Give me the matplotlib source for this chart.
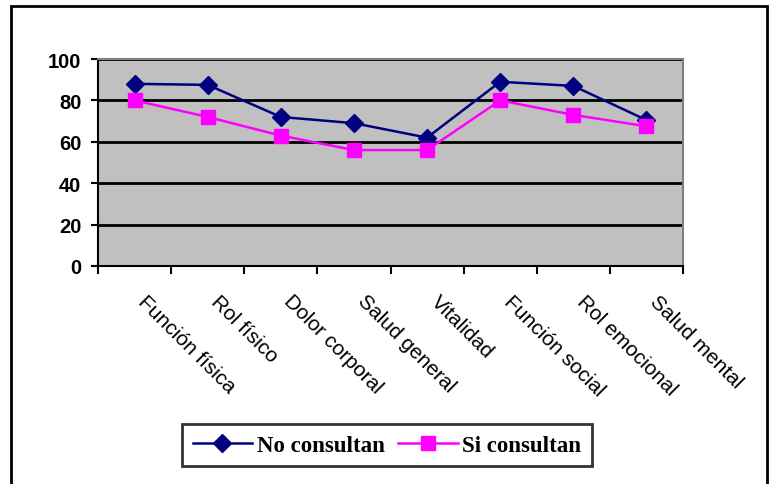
import matplotlib.pyplot as plt
import matplotlib.transforms as mtransforms
from matplotlib.patches import Rectangle

# categories and values
categorias = ["Función física", "Rol físico", "Dolor corporal", "Salud general",
              "Vitalidad", "Función social", "Rol emocional", "Salud mental"]
no_consultan = [88, 87.5, 72, 69, 62, 89, 87, 70.5]
si_consultan = [80, 72, 63, 56, 56, 80, 73, 67.5]
y_ticks = [0, 20, 40, 60, 80, 100]

fig = plt.figure(figsize=(7.76, 4.85), dpi=100)
ax = fig.add_axes([98 / 776, 1 - 267 / 485, (683 - 98) / 776, (267 - 60) / 485])

x = list(range(1, len(categorias) + 1))
ax.plot(x, no_consultan, color="#000080", marker="D", markersize=9.5, linewidth=1.8,
        label="No consultan", clip_on=False, zorder=3)
ax.plot(x, si_consultan, color="#FF00FF", marker="s", markersize=10.5, linewidth=1.8,
        label="Si consultan", clip_on=False, zorder=3)

ax.set_facecolor("#C0C0C0")
ax.set_xlim(0.5, len(categorias) + 0.5)
ax.set_ylim(0, 100)

# y axis
ax.set_yticks(y_ticks)
ax.set_yticklabels([str(v) for v in y_ticks], fontfamily="Liberation Sans",
                   fontweight="bold", fontsize=14.5)
ax.tick_params(axis="y", direction="out", length=5, width=1.5, pad=7)
ax.set_axisbelow(True)
ax.grid(axis="y", color="black", linewidth=2)

# x axis: ticks between categories, labels at categories
ax.set_xticks([i + 0.5 for i in range(len(categorias) + 1)])
ax.set_xticklabels([])
ax.set_xticks(x, minor=True)
ax.set_xticklabels(categorias, minor=True, fontfamily="Liberation Sans", fontsize=15,
                   rotation=-45, ha="left", va="top", rotation_mode="anchor")
ax.tick_params(axis="x", which="major", direction="out", length=6, width=1.5)
ax.tick_params(axis="x", which="minor", length=0, pad=18)
off = mtransforms.ScaledTranslation(13 / 100, 0, fig.dpi_scale_trans)
for lbl in ax.get_xticklabels(minor=True):
    lbl.set_transform(lbl.get_transform() + off)

for side in ["left", "bottom"]:
    ax.spines[side].set_color("black")
    ax.spines[side].set_linewidth(1.5)
for side in ["top", "right"]:
    ax.spines[side].set_color("#808080")
    ax.spines[side].set_linewidth(1.5)

leg = fig.legend(loc="center", bbox_to_anchor=(387 / 776, 1 - 446 / 485), ncol=2,
                 prop={"family": "Liberation Serif", "weight": "bold", "size": 16.5},
                 frameon=True, fancybox=False, edgecolor="black", handlelength=2.6,
                 columnspacing=0.6, handletextpad=0.2, borderpad=0.45)
leg.get_frame().set_linewidth(2)

# outer chart border
fig.patches.append(Rectangle((11 / 776, -0.02), (767 - 11) / 776, 1.02 - 7 / 485,
                             transform=fig.transFigure, fill=False,
                             edgecolor="black", linewidth=2))

fig.savefig("out.png", dpi=100)
